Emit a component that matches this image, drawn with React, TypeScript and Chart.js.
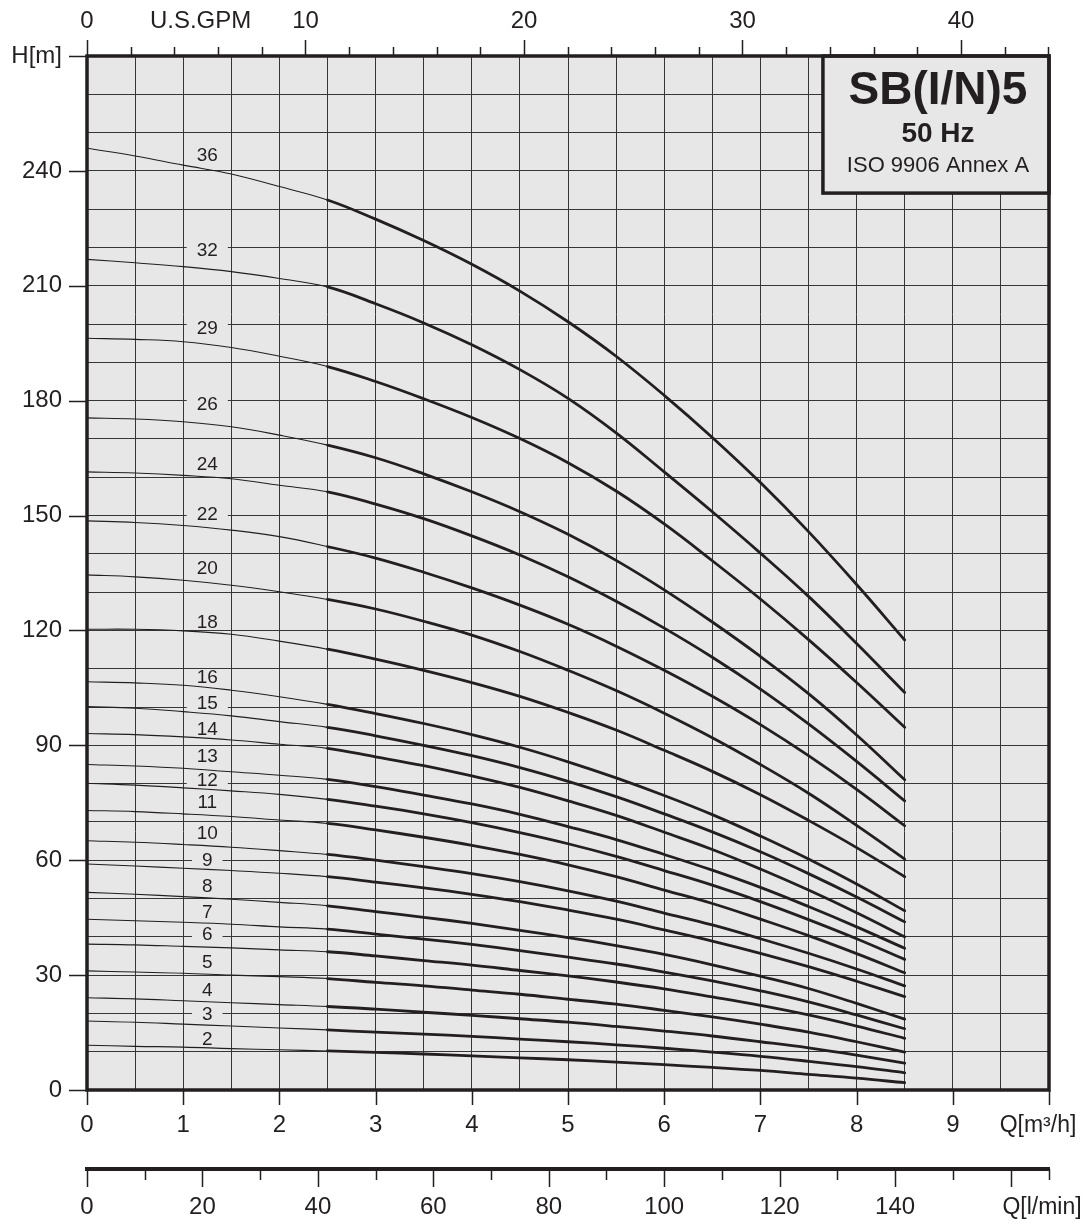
import React, { useEffect, useRef } from 'react';
import { Chart, registerables } from 'chart.js';

Chart.register(...registerables);

// ---- data ----
const flowQ = [0, 0.5, 1, 1.5, 2, 2.5, 3, 3.5, 4, 4.5, 5, 5.5, 6, 6.5, 7, 7.5, 8, 8.5];

const h36 = [245.9, 243.9, 241.5, 239.2, 235.9, 232.4, 227.4, 221.8, 215.6, 208.6, 200.6, 191.6, 181.4, 170.4, 158.6, 145.8, 132.0, 117.5];
const h32 = [216.9, 216.0, 215.0, 213.7, 211.9, 209.7, 205.3, 200.3, 194.6, 188.1, 180.6, 171.6, 161.4, 151.0, 140.2, 128.9, 116.6, 103.8];
const h29 = [196.3, 196.0, 195.4, 193.9, 191.6, 188.9, 185.0, 180.5, 175.6, 170.1, 163.8, 156.4, 147.8, 138.2, 128.2, 117.6, 106.4, 94.7];
const h26 = [175.5, 175.2, 174.5, 173.2, 171.0, 168.4, 165.1, 160.9, 156.2, 151.0, 145.1, 138.3, 130.6, 122.2, 113.2, 103.5, 92.7, 81.0];
const h24 = [161.4, 161.1, 160.5, 159.6, 157.9, 156.2, 153.0, 149.2, 144.7, 139.7, 134.0, 127.6, 120.6, 113.0, 104.7, 95.6, 85.8, 75.5];
const h22 = [148.6, 148.2, 147.4, 146.2, 144.5, 141.9, 138.9, 135.2, 131.1, 126.6, 121.6, 115.9, 109.6, 102.8, 95.4, 87.3, 78.5, 69.0];
const h20 = [134.5, 134.0, 133.1, 131.8, 130.1, 128.1, 125.6, 122.4, 118.8, 114.5, 109.6, 104.3, 98.4, 92.0, 85.0, 77.5, 69.1, 60.3];
const h18 = [120.3, 120.3, 119.9, 119.0, 117.2, 115.1, 112.5, 109.6, 106.4, 102.8, 98.6, 94.0, 88.7, 83.2, 77.1, 70.4, 63.3, 55.7];
const h16 = [106.6, 106.3, 105.7, 104.4, 102.7, 100.7, 98.3, 95.7, 92.8, 89.5, 85.7, 81.5, 76.9, 71.9, 66.3, 60.3, 53.8, 46.8];
const h15 = [100.1, 99.7, 98.8, 97.7, 96.2, 94.7, 92.5, 90.0, 87.3, 84.2, 80.6, 76.6, 72.1, 67.4, 62.2, 56.5, 50.4, 43.9];
const h14 = [93.1, 92.8, 92.2, 91.4, 90.3, 89.2, 87.0, 84.7, 82.0, 79.0, 75.5, 71.7, 67.3, 62.8, 57.7, 52.2, 46.3, 40.0];
const h13 = [85.0, 84.6, 84.0, 83.1, 82.2, 81.1, 79.2, 77.0, 74.7, 72.0, 68.8, 65.4, 61.5, 57.4, 52.9, 47.9, 42.6, 37.0];
const h12 = [80.1, 79.6, 78.9, 78.1, 77.2, 75.9, 74.1, 72.1, 69.8, 67.2, 64.3, 61.0, 57.3, 53.5, 49.2, 44.5, 39.5, 34.1];
const h11 = [73.0, 72.7, 72.1, 71.4, 70.5, 69.6, 67.9, 66.0, 63.9, 61.5, 58.8, 55.7, 52.2, 48.7, 44.6, 40.3, 35.6, 30.6];
const h10 = [65.1, 64.7, 64.1, 63.4, 62.5, 61.5, 60.0, 58.3, 56.5, 54.4, 52.0, 49.3, 46.2, 43.1, 39.5, 35.7, 31.6, 27.2];
const h9 = [59.0, 58.5, 57.9, 57.3, 56.6, 55.7, 54.3, 52.8, 51.1, 49.2, 47.0, 44.6, 41.8, 38.9, 35.7, 32.2, 28.4, 24.4];
const h8 = [51.6, 51.1, 50.5, 49.8, 49.0, 48.1, 46.6, 45.1, 43.5, 41.7, 39.8, 37.7, 35.4, 32.7, 29.7, 26.5, 22.6, 18.5];
const h7 = [44.6, 44.2, 43.8, 43.3, 42.6, 42.0, 40.7, 39.4, 38.0, 36.4, 34.7, 32.9, 30.8, 28.5, 25.9, 23.0, 19.6, 16.0];
const h6 = [38.1, 37.9, 37.5, 37.1, 36.6, 36.1, 35.0, 33.8, 32.6, 31.2, 29.8, 28.2, 26.4, 24.3, 22.1, 19.6, 16.7, 13.5];
const h5 = [31.1, 30.8, 30.5, 30.0, 29.6, 29.1, 28.1, 27.2, 26.1, 25.0, 23.7, 22.4, 20.8, 19.1, 17.2, 15.1, 12.6, 9.9];
const h4 = [24.1, 23.8, 23.3, 22.8, 22.3, 21.8, 21.1, 20.3, 19.5, 18.6, 17.7, 16.6, 15.4, 14.1, 12.6, 11.0, 9.1, 7.0];
const h3 = [18.0, 17.7, 17.2, 16.7, 16.2, 15.7, 15.1, 14.6, 14.0, 13.3, 12.6, 11.8, 10.9, 9.9, 8.8, 7.5, 6.1, 4.5];
const h2 = [11.7, 11.4, 11.2, 10.8, 10.5, 10.2, 9.8, 9.4, 8.9, 8.4, 7.9, 7.3, 6.6, 5.9, 5.1, 4.1, 3.1, 1.9];

const stageCounts = [36, 32, 29, 26, 24, 22, 20, 18, 16, 15, 14, 13, 12, 11, 10, 9, 8, 7, 6, 5, 4, 3, 2];
const stageHeads = [h36, h32, h29, h26, h24, h22, h20, h18, h16, h15, h14, h13, h12, h11, h10, h9, h8, h7, h6, h5, h4, h3, h2];
// head value at which each stage label sits (at Q = LABEL_Q)
const labelHeads = [244.1, 219.3, 199.1, 179.1, 163.4, 150.4, 136.3, 122.3, 107.8, 101.0, 94.4, 87.3, 81.1, 75.2, 67.3, 60.2, 53.4, 46.6, 40.7, 33.5, 26.1, 20.0, 13.4];
const LABEL_Q = 1.25;
const THICK_FROM_Q = 2.5;

const Q_MAX = 10; // m3/h
const H_MAX = 270; // m
const GPM_MAX = Q_MAX / 0.227125; // U.S. GPM equivalent of 10 m3/h
const LMIN_MAX = (Q_MAX * 1000) / 60; // l/min equivalent of 10 m3/h

const titleLines = ['SB(I/N)5', '50 Hz', 'ISO 9906 Annex A'];

// ---- styles ----
const FONT = '"Liberation Sans", Arial, Helvetica, sans-serif';
const INK = '#231f20';
const PLOT_BG = '#e7e7e7';
const GRID = '#363636';

const decorPlugin = {
  id: 'decor',
  beforeDraw(chart: any) {
    const { ctx, chartArea: a } = chart;
    ctx.save();
    ctx.fillStyle = '#ffffff';
    ctx.fillRect(0, 0, chart.width, chart.height);
    ctx.fillStyle = PLOT_BG;
    ctx.fillRect(a.left, a.top, a.right - a.left, a.bottom - a.top);
    ctx.restore();
  },
  beforeDatasetsDraw(chart: any) {
    const { ctx, chartArea: a, scales } = chart;
    const xs = scales.x;
    const ys = scales.y;
    ctx.save();
    // stage labels
    ctx.font = `19px ${FONT}`;
    ctx.textAlign = 'center';
    ctx.textBaseline = 'middle';
    stageCounts.forEach((n, i) => {
      const px = xs.getPixelForValue(LABEL_Q);
      const py = ys.getPixelForValue(labelHeads[i]);
      const t = String(n);
      const w = ctx.measureText(t).width + 20;
      ctx.fillStyle = PLOT_BG;
      ctx.fillRect(px - w / 2, py - 8, w, 16);
      ctx.fillStyle = INK;
      ctx.fillText(t, px, py + 1);
    });
    // title box
    const bl = xs.getPixelForValue(7.65);
    const bb = ys.getPixelForValue(234.2);
    ctx.fillStyle = PLOT_BG;
    ctx.fillRect(bl, a.top, a.right - bl, bb - a.top);
    ctx.lineWidth = 3.5;
    ctx.strokeStyle = INK;
    ctx.strokeRect(bl, a.top, a.right - bl, bb - a.top);
    const cx = (bl + a.right) / 2 + 2;
    ctx.fillStyle = INK;
    ctx.font = `bold 46px ${FONT}`;
    ctx.fillText(titleLines[0], cx, a.top + 35);
    ctx.font = `bold 28px ${FONT}`;
    ctx.fillText(titleLines[1], cx, a.top + 78);
    ctx.font = `22px ${FONT}`;
    ctx.fillText(titleLines[2], cx, a.top + 110);
    ctx.restore();
  },
  afterDraw(chart: any) {
    const { ctx, chartArea: a, scales } = chart;
    ctx.save();
    ctx.strokeStyle = INK;
    ctx.lineWidth = 1.5;
    ctx.beginPath();
    // left ticks
    scales.y.ticks.forEach((t: any) => {
      if (t.value % 30 === 0 || t.value === H_MAX) {
        const y = Math.round(scales.y.getPixelForValue(t.value)) + 0.5;
        ctx.moveTo(a.left - 18, y);
        ctx.lineTo(a.left, y);
      }
    });
    // bottom m3/h ticks
    scales.x.ticks.forEach((t: any) => {
      if (Number.isInteger(t.value)) {
        const x = Math.round(scales.x.getPixelForValue(t.value)) + 0.5;
        ctx.moveTo(x, a.bottom);
        ctx.lineTo(x, a.bottom + 15);
      }
    });
    // top GPM ticks
    scales.x2.ticks.forEach((t: any) => {
      const len = t.value % 10 === 0 ? 16 : 9;
      const x = Math.round(scales.x2.getPixelForValue(t.value)) + 0.5;
      ctx.moveTo(x, a.top - len);
      ctx.lineTo(x, a.top);
    });
    // l/min ticks
    const top3 = scales.x3.top;
    const l3 = [...scales.x3.ticks.map((t: any) => t.value), LMIN_MAX];
    l3.forEach((v: number) => {
      const len = v % 20 === 0 ? 18 : 11;
      const x = Math.round(scales.x3.getPixelForValue(v)) + 0.5;
      ctx.moveTo(x, top3);
      ctx.lineTo(x, top3 + len);
    });
    ctx.stroke();
    // frame
    ctx.lineWidth = 3.5;
    ctx.strokeRect(a.left, a.top, a.right - a.left, a.bottom - a.top);
    // axis titles
    ctx.fillStyle = INK;
    ctx.font = `23px ${FONT}`;
    ctx.textAlign = 'center';
    ctx.textBaseline = 'middle';
    ctx.fillText('Q[m³/h]', a.right - 11, a.bottom + 36);
    ctx.fillText('Q[l/min]', a.right - 7, top3 + 39);
    ctx.font = `24px ${FONT}`;
    ctx.fillText('U.S.GPM', scales.x2.getPixelForValue(5.2), a.top - 35);
    ctx.restore();
  },
};

const tickFont = { family: FONT, size: 24 };

export default function App() {
  const ref = useRef<HTMLCanvasElement>(null);
  useEffect(() => {
    document.body.style.margin = '0';
    const datasets = stageCounts.map((n, i) => ({
      label: String(n),
      data: flowQ.map((q, j) => ({ x: q, y: stageHeads[i][j] })),
      borderColor: INK,
      borderWidth: 1.1,
      pointRadius: 0,
      fill: false,
      tension: 0.4,
      segment: {
        borderWidth: (c: any) => (c.p0.parsed.x >= THICK_FROM_Q - 1e-6 ? 2.8 : 1.1),
      },
    }));
    const chart = new Chart(ref.current as HTMLCanvasElement, {
      type: 'line',
      data: { datasets },
      plugins: [decorPlugin],
      options: {
        responsive: false,
        animation: false,
        devicePixelRatio: 1,
        layout: { padding: { left: 0, top: 0, right: 42, bottom: 0 } },
        plugins: { legend: { display: false }, tooltip: { enabled: false }, title: { display: false } },
        elements: { line: { borderCapStyle: 'round', borderJoinStyle: 'round' } },
        scales: {
          x: {
            type: 'linear',
            position: 'bottom',
            weight: 0,
            min: 0,
            max: Q_MAX,
            grid: { color: GRID, lineWidth: 1, drawTicks: false },
            border: { display: false },
            ticks: {
              stepSize: 0.5,
              autoSkip: false,
              maxRotation: 0,
              includeBounds: false,
              padding: 21,
              color: INK,
              font: tickFont,
              callback: (v: any) => (Number.isInteger(v) && v < Q_MAX ? String(v) : ''),
            },
            afterFit: (s: any) => { s.height = 79; },
          },
          x3: {
            type: 'linear',
            position: 'bottom',
            weight: 1,
            min: 0,
            max: LMIN_MAX,
            grid: { drawOnChartArea: false, drawTicks: false },
            border: { display: true, width: 4, color: INK },
            ticks: {
              stepSize: 10,
              autoSkip: false,
              maxRotation: 0,
              includeBounds: false,
              padding: 24,
              color: INK,
              font: tickFont,
              callback: (v: any) => (v % 20 === 0 && v <= 140 ? String(v) : ''),
            },
            afterFit: (s: any) => { s.height = 57; },
          },
          x2: {
            type: 'linear',
            position: 'top',
            min: 0,
            max: GPM_MAX,
            grid: { drawOnChartArea: false, drawTicks: false },
            border: { display: false },
            ticks: {
              stepSize: 2,
              autoSkip: false,
              maxRotation: 0,
              includeBounds: false,
              padding: 20,
              color: INK,
              font: tickFont,
              callback: (v: any) => (v % 10 === 0 ? String(v) : ''),
            },
            afterFit: (s: any) => { s.height = 56; },
          },
          y: {
            type: 'linear',
            position: 'left',
            min: 0,
            max: H_MAX,
            grid: { color: GRID, lineWidth: 1, drawTicks: false },
            border: { display: false },
            ticks: {
              stepSize: 10,
              autoSkip: false,
              includeBounds: false,
              padding: 25,
              color: INK,
              font: tickFont,
              callback: (v: any) => (v === H_MAX ? 'H[m]' : v % 30 === 0 ? String(v) : ''),
            },
            afterFit: (s: any) => { s.width = 87; },
          },
        },
      } as any,
    });
    return () => chart.destroy();
  }, []);
  return (
    <canvas
      ref={ref}
      width={1091}
      height={1226}
      style={{ display: 'block', width: 1091, height: 1226 }}
    />
  );
}
